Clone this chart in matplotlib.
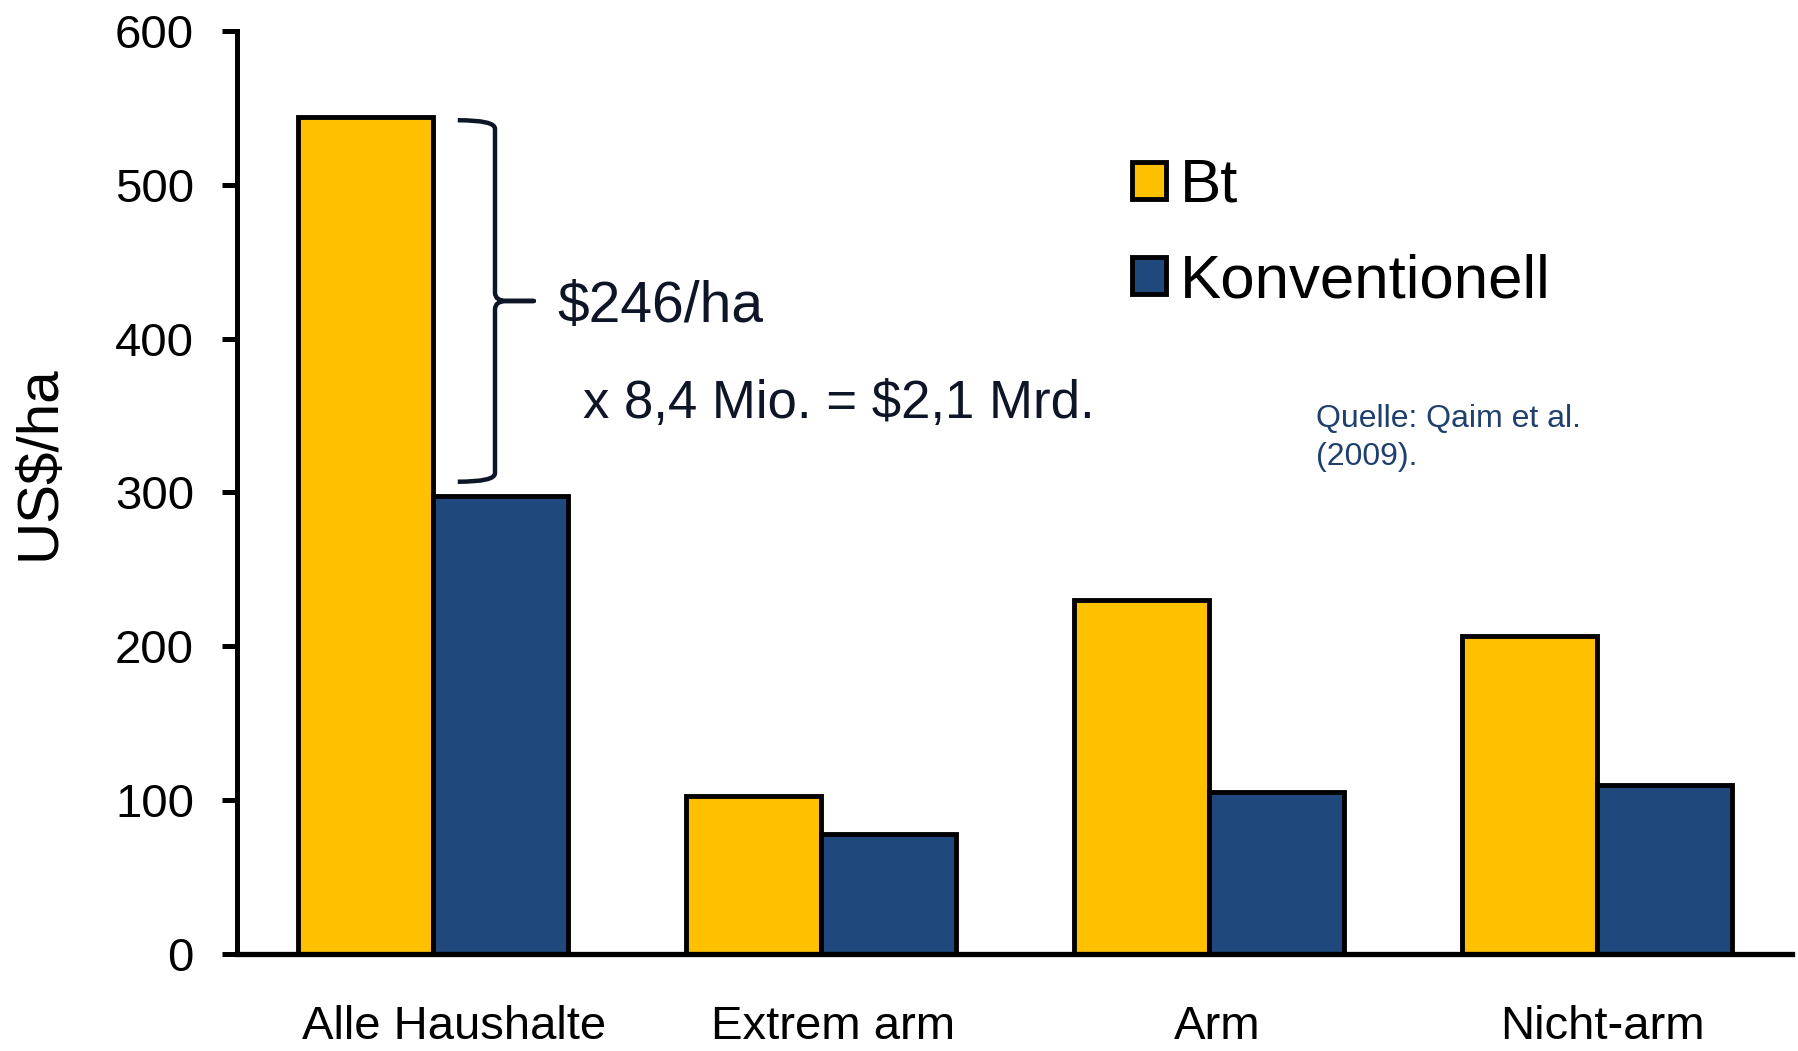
import numpy as np
import matplotlib
matplotlib.use("Agg")
import matplotlib.pyplot as plt
import matplotlib.transforms as mtransforms
from matplotlib.path import Path
from matplotlib.patches import PathPatch

plt.rcParams['font.family'] = ['Liberation Sans', 'DejaVu Sans']

# data
categories = ['Alle Haushalte', 'Extrem arm', 'Arm', 'Nicht-arm']
bt = [544, 103, 230, 207]
konventionell = [298, 78, 105, 110]
series_names = ['Bt', 'Konventionell']
yticks = [0, 100, 200, 300, 400, 500, 600]

YELLOW = '#FFC000'
BLUE = '#1F497D'
INK = '#0d1526'

fig = plt.figure(figsize=(17.98, 10.51), dpi=100)
ax = fig.add_axes([0.1318, 0.0923, 0.8649, 0.8782])

x = np.arange(len(categories))
w = 0.348
b1 = ax.bar(x - w / 2, bt, w, color=YELLOW, edgecolor='black', linewidth=3.5,
            label=series_names[0], zorder=3)
b2 = ax.bar(x + w / 2, konventionell, w, color=BLUE, edgecolor='black', linewidth=3.5,
            label=series_names[1], zorder=3)

ax.set_xlim(-0.505, len(categories) - 1 + 0.503)
ax.set_ylim(0, 600)
ax.set_yticks(yticks)
ax.set_xticks(x)
ax.set_xticklabels(categories)

for s in ['top', 'right']:
    ax.spines[s].set_visible(False)
ax.spines['left'].set_linewidth(3.6)
ax.spines['bottom'].set_linewidth(3.8)
ax.spines['bottom'].set_zorder(4)
ax.tick_params(axis='y', length=11, width=3.6, labelsize=34, pad=20, direction='out')
ax.tick_params(axis='x', length=0, labelsize=34, pad=37)

# the category labels sit a little right of the group centres in the original
label_shift_px = [21, 12, 8, 6]
for lab, dx_px in zip(ax.get_xticklabels(), label_shift_px):
    lab.set_transform(lab.get_transform() +
                      mtransforms.ScaledTranslation(dx_px / 100, 0, fig.dpi_scale_trans))

fig.text(40 / 1798, 1 - 463 / 1051, 'US$/ha', rotation=90, ha='center', va='center',
         fontsize=42)

# curly brace spanning the difference for "Alle Haushalte"
top = bt[0] - 2
bot = konventionell[0] + 9
mid = (top + bot) / 2
x0, xv, xt = 0.064, 0.160, 0.260
r = 5.5
dx = 0.03
verts = [(x0, top), (xv, top), (xv, top - r),
         (xv, mid + r), (xv, mid), (xv + dx, mid),
         (xt, mid), (xv + dx, mid),
         (xv, mid), (xv, mid - r),
         (xv, bot + r), (xv, bot), (x0, bot)]
codes = [Path.MOVETO, Path.CURVE3, Path.CURVE3,
         Path.LINETO, Path.CURVE3, Path.CURVE3,
         Path.LINETO, Path.LINETO,
         Path.CURVE3, Path.CURVE3,
         Path.LINETO, Path.CURVE3, Path.CURVE3]
brace = PathPatch(Path(verts, codes), facecolor='none', edgecolor=INK, linewidth=3.2,
                  joinstyle='round', capstyle='butt', zorder=5)
ax.add_patch(brace)

ax.text(0.322, 411, '$246/ha', fontsize=41, color=INK, ha='left', va='baseline')
ax.text(0.387, 348.5, 'x 8,4 Mio. = $2,1 Mrd.', fontsize=38, color=INK, ha='left',
        va='baseline')

leg = ax.legend(handles=[b1, b2], labels=series_names, loc='upper left',
                bbox_to_anchor=(1132 / 1798, 1 - 158 / 1051),
                bbox_transform=fig.transFigure, frameon=False, fontsize=44.5,
                handlelength=0.55, handleheight=0.55, handletextpad=0.22,
                labelspacing=0.62, borderpad=0, borderaxespad=0)

SRC = '#1F3F6F'
fig.text(1316 / 1798, 1 - 427 / 1051, 'Quelle: Qaim et al.', fontsize=23, color=SRC,
         ha='left', va='baseline')
fig.text(1316 / 1798, 1 - 465 / 1051, '(2009).', fontsize=23, color=SRC,
         ha='left', va='baseline')

fig.savefig('out.png', dpi=100)
